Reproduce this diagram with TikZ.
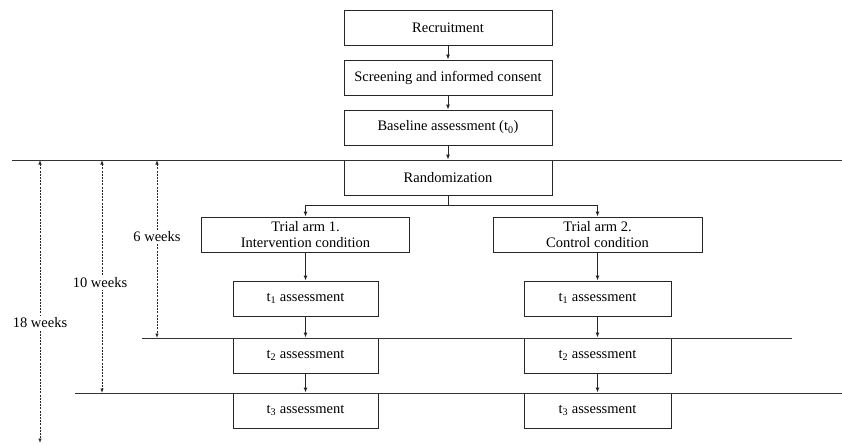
\documentclass[tikz,border=0pt]{standalone}
\usepackage{fontspec}
\setmainfont{Liberation Serif}
\usetikzlibrary{arrows.meta}
\begin{document}
\begin{tikzpicture}[x=1pt,y=-1pt,
  box/.style={draw=black!85, line width=0.9pt, minimum height=35pt, inner sep=0pt, align=center, font=\fontsize{14.5}{16}\selectfont},
  conn/.style={draw=black!85, line width=0.9pt, -{Latex[length=5pt,width=4pt]}},
  sep/.style={draw=black!80, line width=0.9pt},
  dim/.style={draw=black!85, line width=0.8pt, dash pattern=on 2pt off 1.2pt, {Latex[length=4.5pt,width=3.5pt]}-{Latex[length=4.5pt,width=3.5pt]}},
  dimlab/.style={fill=white, inner sep=2pt, font=\fontsize{14.5}{16}\selectfont}]
\useasboundingbox (0,0) rectangle (842,444);
% main column
\node[box, minimum width=208pt] (rec) at (448,27.5) {Recruitment};
\node[box, minimum width=208pt] (scr) at (448,77.5) {Screening and informed consent};
\node[box, minimum width=208pt] (base) at (448,127.5) {Baseline assessment (t\textsubscript{0})};
\node[box, minimum width=208pt] (rand) at (448,177.5) {Randomization};
% arms
\node[box, minimum width=208pt] (arm1) at (305.5,234.5) {Trial arm 1.\\Intervention condition};
\node[box, minimum width=209pt] (arm2) at (597.5,234.5) {Trial arm 2.\\Control condition};
\node[box, minimum width=145pt] (a1) at (305.5,298.5) {t\textsubscript{1} assessment};
\node[box, minimum width=145pt] (a2) at (305.5,355.5) {t\textsubscript{2} assessment};
\node[box, minimum width=145pt] (a3) at (305.5,410.5) {t\textsubscript{3} assessment};
\node[box, minimum width=147pt] (b1) at (597.5,298.5) {t\textsubscript{1} assessment};
\node[box, minimum width=147pt] (b2) at (597.5,355.5) {t\textsubscript{2} assessment};
\node[box, minimum width=147pt] (b3) at (597.5,410.5) {t\textsubscript{3} assessment};
% separator lines
\coordinate (l0a) at (12,160); \coordinate (l0b) at (842,160);
\coordinate (l1a) at (142,338); \coordinate (l1b) at (792,338);
\coordinate (l2a) at (75,393); \coordinate (l2b) at (842,393);
\draw[sep] (l0a) -- (l0b);
\draw[sep] (l1a) -- (l1b);
\draw[sep] (l2a) -- (l2b);
% connectors
\draw[conn] (rec) -- (scr);
\draw[conn] (scr) -- (base);
\draw[conn] (base) -- (rand);
\coordinate (split) at (448,205);
\draw[draw=black!85, line width=0.9pt] (rand.south) -- (split);
\draw[conn] (split) -| (arm1.north);
\draw[conn] (split) -| (arm2.north);
\draw[conn] (arm1) -- (a1);
\draw[conn] (a1) -- (a2);
\draw[conn] (a2) -- (a3);
\draw[conn] (arm2) -- (b1);
\draw[conn] (b1) -- (b2);
\draw[conn] (b2) -- (b3);
% duration arrows
\coordinate (d6t) at (157,160); \coordinate (d6b) at (157,338);
\coordinate (d10t) at (102,160); \coordinate (d10b) at (102,393);
\coordinate (d18t) at (40,160); \coordinate (d18b) at (40,443);
\draw[dim] (d6t) -- (d6b);
\draw[dim] (d10t) -- (d10b);
\draw[dim] (d18t) -- (d18b);
\node[dimlab] (w6) at (157,237) {6 weeks};
\node[dimlab] (w10) at (100,283) {10 weeks};
\node[dimlab] (w18) at (40,323) {18 weeks};
\end{tikzpicture}
\end{document}
